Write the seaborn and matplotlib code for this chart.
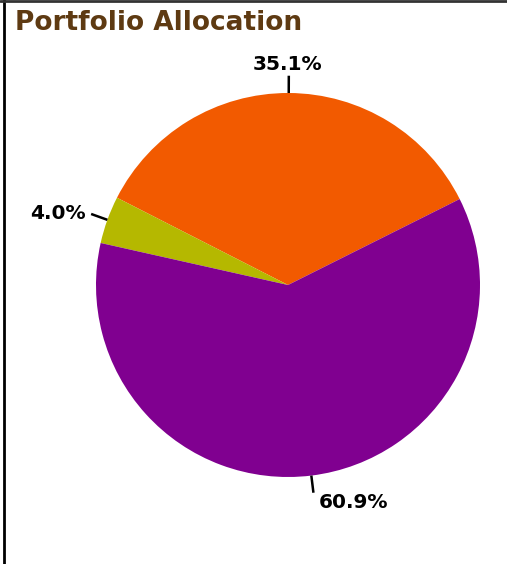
import numpy as np
import matplotlib
matplotlib.use("Agg")
import matplotlib.pyplot as plt
import seaborn as sns
from matplotlib.lines import Line2D

# Data
labels = ["Orange", "Olive", "Purple"]
shares = [35.1, 4.0, 60.9]
colors = ["#F25A00", "#B5B800", "#800090"]
start_angle = 26.6

sns.set_theme(style="white")
plt.rcParams["font.family"] = ["DejaVu Sans"]

W, H = 507, 564
fig = plt.figure(figsize=(W / 100, H / 100), dpi=100)
fig.patch.set_facecolor("white")

# pie centre (288, 285) px, radius 192 px
cx, cy, r = 288, 285, 192
ax = fig.add_axes([(cx - r) / W, (H - cy - r) / H, 2 * r / W, 2 * r / H])
wedges, _ = ax.pie(shares, colors=sns.color_palette(colors), startangle=start_angle,
                   counterclock=True, radius=1.0,
                   wedgeprops=dict(linewidth=0))
ax.set_xlim(-1, 1)
ax.set_ylim(-1, 1)
ax.set_aspect("equal")
ax.axis("off")

for w, pct in zip(wedges, shares):
    mid = np.deg2rad((w.theta1 + w.theta2) / 2)
    x, y = np.cos(mid), np.sin(mid)
    ax.plot([1.0 * x, 1.09 * x], [1.0 * y, 1.09 * y], color="black", lw=1.8,
            clip_on=False, solid_capstyle="butt")
    ha = "center" if abs(x) < 0.05 else ("left" if x > 0 else "right")
    va = "bottom" if y > 0.7 else ("top" if y < -0.7 else "center")
    dx = -1 if ha == "center" else (4 if x > 0 else -4)
    dy = 1 if va == "bottom" else 0
    ax.annotate(f"{pct:.1f}%", xy=(1.09 * x, 1.09 * y), xytext=(dx, dy),
                textcoords="offset points", ha=ha, va=va,
                fontsize=14.5, fontweight="bold", color="black",
                annotation_clip=False)

fig.text(15 / W, 1 - 23 / H, "Portfolio Allocation", ha="left", va="center",
         fontsize=19, fontweight="bold", color="#5E3A12")

# frame lines (left and top)
fig.add_artist(Line2D([4 / W, 4 / W], [0, 1], color="black", lw=2, transform=fig.transFigure))
fig.add_artist(Line2D([0, 1], [1 - 0.5 / H, 1 - 0.5 / H], color="#333333", lw=2, transform=fig.transFigure))

fig.savefig("out.png", dpi=100)
